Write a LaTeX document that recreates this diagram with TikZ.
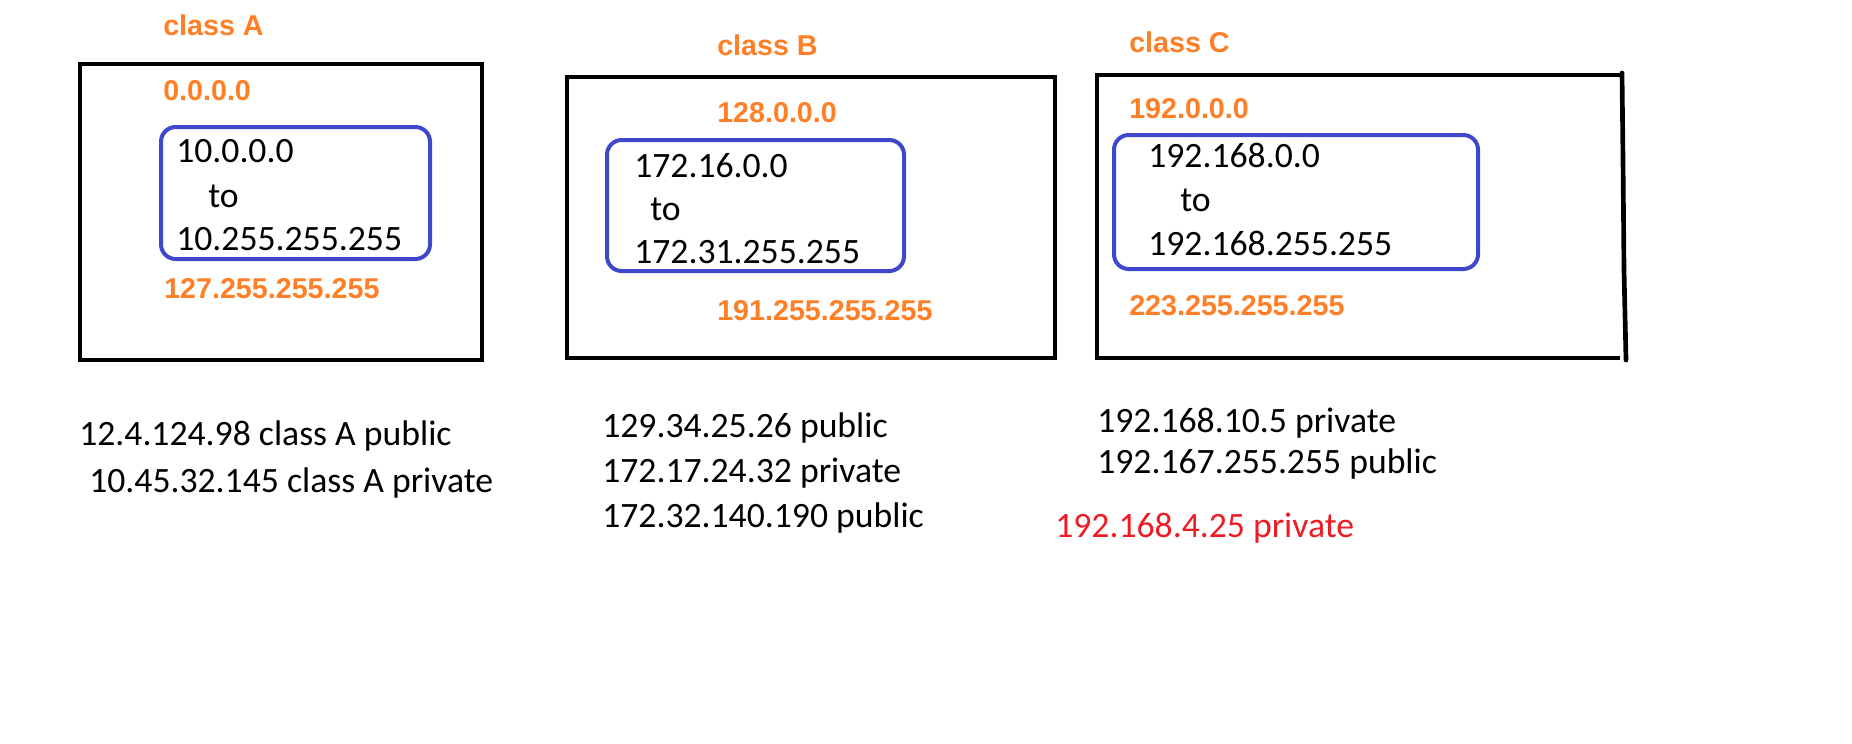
\documentclass[tikz,border=0pt]{standalone}
\usepackage{fontspec}
\setmainfont{Carlito}
\newfontfamily\labelfont{Liberation Sans}[BoldFont={* Bold}]
\definecolor{rangeorange}{HTML}{FF7F27}
\definecolor{privblue}{HTML}{3F48CC}
\definecolor{notered}{HTML}{ED1C24}
\begin{document}
\begin{tikzpicture}[x=0.75pt,y=-0.75pt,
  classframe/.style={draw=black,line width=3.5pt},
  privframe/.style={draw=privblue,line width=3pt,rounded corners=11pt},
  rangelbl/.style={anchor=base west,inner sep=0pt,text=rangeorange,font=\labelfont\bfseries\fontsize{21.5pt}{25pt}\selectfont},
  addr/.style={anchor=base west,inner sep=0pt,text=black,font=\fontsize{26.75pt}{30pt}\selectfont},
  note/.style={addr}]
\useasboundingbox (0,0) rectangle (1852,743);

% class A
\draw[classframe] (80,64) rectangle (482,360);
\draw[privframe] (161,127) rectangle (430,259);
\node[rangelbl] (aname) at (163,35) {class A};
\node[rangelbl] (afirst) at (163,100) {0.0.0.0};
\node[addr] (apfrom) at (176,162) {10.0.0.0};
\node[addr] (apto) at (208,207) {to};
\node[addr] (apend) at (176,250) {10.255.255.255};
\node[rangelbl] (alast) at (164,298) {127.255.255.255};

% class B
\draw[classframe] (567,77) rectangle (1055,358);
\draw[privframe] (607,140) rectangle (904,271);
\node[rangelbl] (bname) at (717,55) {class B};
\node[rangelbl] (bfirst) at (717,122) {128.0.0.0};
\node[addr] (bpfrom) at (634,177) {172.16.0.0};
\node[addr] (bpto) at (650,220) {to};
\node[addr] (bpend) at (634,263) {172.31.255.255};
\node[rangelbl] (blast) at (717,320) {191.255.255.255};

% class C (right side drawn by hand)
\draw[classframe] (1622,75) -- (1097,75) -- (1097,358) -- (1620,358);
\draw[classframe,line cap=round] (1622,73) -- (1623,160) -- (1624,270) -- (1626,360);
\draw[privframe] (1114,135) rectangle (1478,269);
\node[rangelbl] (cname) at (1129,52) {class C};
\node[rangelbl] (cfirst) at (1129,118) {192.0.0.0};
\node[addr] (cpfrom) at (1148,167) {192.168.0.0};
\node[addr] (cpto) at (1180,211) {to};
\node[addr] (cpend) at (1148,255) {192.168.255.255};
\node[rangelbl] (clast) at (1129,315) {223.255.255.255};

% examples
\node[note] (ex1) at (79,445) {12.4.124.98 class A public};
\node[note] (ex2) at (89,492) {10.45.32.145 class A private};
\node[note] (ex3) at (602,437) {129.34.25.26 public};
\node[note] (ex4) at (602,482) {172.17.24.32 private};
\node[note] (ex5) at (602,527) {172.32.140.190 public};
\node[note] (ex6) at (1097,432) {192.168.10.5 private};
\node[note] (ex7) at (1097,473) {192.167.255.255 public};
\node[note,text=notered] (ex8) at (1055,537) {192.168.4.25 private};
\end{tikzpicture}
\end{document}
